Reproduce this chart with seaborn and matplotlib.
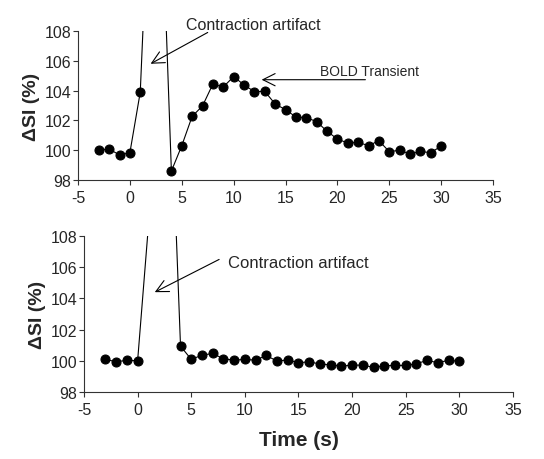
import matplotlib
matplotlib.use("Agg")
import matplotlib.pyplot as plt
import seaborn as sns

# Time axis (s)
tiempo = list(range(-3, 31))

# Top panel: contraction artifact followed by the BOLD transient
si_superior = [100.0, 100.08, 99.68, 99.83, 103.9, 120.0, 118.0, 98.6, 100.3, 102.27,
               102.97, 104.44, 104.24, 104.94, 104.38, 103.93, 103.95, 103.1, 102.72,
               102.23, 102.18, 101.92, 101.27, 100.75, 100.48, 100.53, 100.3, 100.64,
               99.9, 100.0, 99.74, 99.92, 99.83, 100.28]

# Bottom panel: contraction artifact only
si_inferior = [100.09, 99.94, 100.03, 100.0, 108.6, 116.0, 119.0, 100.94, 100.09, 100.36,
               100.47, 100.13, 100.04, 100.09, 100.04, 100.34, 99.98, 100.06, 99.87,
               99.94, 99.79, 99.74, 99.66, 99.72, 99.72, 99.58, 99.68, 99.7, 99.7,
               99.81, 100.03, 99.87, 100.04, 99.96]

x_ticks = [-5, 0, 5, 10, 15, 20, 25, 30, 35]
y_ticks = [98, 100, 102, 104, 106, 108]

sns.set_style("ticks")
plt.rcParams['font.family'] = ['Liberation Sans', 'DejaVu Sans']

fig = plt.figure(figsize=(5.44, 4.6), dpi=100)
ax_sup = fig.add_axes([0.1434, 0.6065, 0.7629, 0.324])
ax_inf = fig.add_axes([0.1544, 0.1457, 0.7886, 0.339])

for ax, valores in [(ax_sup, si_superior), (ax_inf, si_inferior)]:
    sns.lineplot(x=tiempo, y=valores, ax=ax, color='black', linewidth=0.8,
                 marker='o', markersize=6.5, markeredgecolor='black')
    ax.set_xlim(-5, 35)
    ax.set_ylim(98, 108)
    ax.set_xticks(x_ticks)
    ax.set_yticks(y_ticks)
    ax.set_xticklabels([str(v) for v in x_ticks])
    ax.tick_params(labelsize=11.5, length=3.5, width=0.8, color='#333333', pad=4)
    ax.tick_params(axis='y', pad=1.5)
    for lado in ['left', 'bottom']:
        ax.spines[lado].set_linewidth(0.8)
        ax.spines[lado].set_color('#333333')
    sns.despine(ax=ax)
    ax.set_ylabel('ΔSI (%)', fontsize=14, fontweight='bold', labelpad=3)
    ax.set_xlabel('')

ax_inf.set_xlabel('Time (s)', fontsize=15, fontweight='bold', labelpad=9)

flecha = dict(arrowstyle='->', color='black', lw=0.8, mutation_scale=22,
              shrinkA=0, shrinkB=0)

ax_sup.annotate('', xy=(2.0, 105.8), xytext=(7.5, 107.9), arrowprops=flecha,
                annotation_clip=False)
ax_sup.text(11.9, 108.42, 'Contraction artifact', fontsize=11.5, ha='center',
            va='center', clip_on=False)

ax_sup.annotate('', xy=(12.7, 104.73), xytext=(22.7, 104.73), arrowprops=flecha)
ax_sup.text(23.1, 105.3, 'BOLD Transient', fontsize=10, ha='center', va='center')

ax_inf.annotate('', xy=(1.6, 104.4), xytext=(7.6, 106.5), arrowprops=flecha)
ax_inf.text(8.4, 106.3, 'Contraction artifact', fontsize=12, ha='left', va='center')

fig.savefig('out.png', dpi=100)
